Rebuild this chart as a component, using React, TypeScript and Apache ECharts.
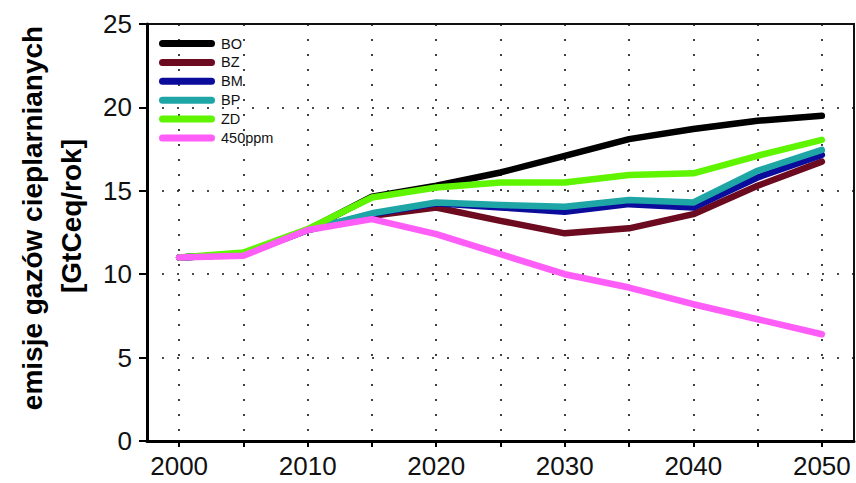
import React, { useEffect, useRef } from "react";
import * as echarts from "echarts";

// Years at which every scenario is reported
const years = [2000, 2005, 2010, 2015, 2020, 2025, 2030, 2035, 2040, 2045, 2050];
// Years that carry a label on the horizontal axis
const labelYears = [2000, 2010, 2020, 2030, 2040, 2050];

const seriesNames = ["BO", "BZ", "BM", "BP", "ZD", "450ppm"];
const seriesColors = ["#000000", "#6c0a1f", "#0b0b9c", "#1ea5a6", "#5ff500", "#ff5df7"];

// Emissions, GtCeq per year
const bo = [11.0, 11.2, 12.65, 14.65, 15.3, 16.1, 17.1, 18.1, 18.7, 19.2, 19.5];
const bz = [11.0, 11.2, 12.65, 13.5, 14.0, 13.2, 12.45, 12.75, 13.6, 15.3, 16.75];
const bm = [11.0, 11.2, 12.65, 13.6, 14.25, 14.0, 13.75, 14.2, 14.0, 15.8, 17.15];
const bp = [11.0, 11.2, 12.65, 13.65, 14.3, 14.15, 14.05, 14.45, 14.3, 16.2, 17.45];
const zd = [11.0, 11.3, 12.7, 14.6, 15.2, 15.5, 15.5, 15.95, 16.05, 17.1, 18.05];
const ppm450 = [11.0, 11.1, 12.65, 13.3, 12.4, 11.2, 10.0, 9.2, 8.2, 7.3, 6.4];

const allValues = [bo, bz, bm, bp, zd, ppm450];

const yAxisTitle = ["emisje gazów cieplarnianych", "[GtCeq/rok]"];

const FONT = "'Liberation Sans', Arial, Helvetica, sans-serif";

// Capsule-shaped legend swatch (thick line with round ends)
const CAPSULE = "path://M3.5,0 H52.5 A3.5,3.5 0 0 1 52.5,7 H3.5 A3.5,3.5 0 0 1 3.5,0 Z";

export default function App() {
  const ref = useRef<HTMLDivElement>(null);

  useEffect(() => {
    document.body.style.margin = "0";
    if (!ref.current) return;
    const chart = echarts.init(ref.current, undefined, { renderer: "svg" });

    const dotted = { color: "#111", width: 1.6, type: [2, 13] as number[] };

    chart.setOption({
      animation: false,
      backgroundColor: "#ffffff",
      grid: {
        left: 147,
        right: 2,
        top: 24,
        bottom: 42,
        show: true,
        borderColor: "#111",
        borderWidth: 2,
        backgroundColor: "transparent",
      },
      legend: {
        orient: "vertical",
        left: 159,
        top: 36,
        padding: 0,
        icon: CAPSULE,
        itemWidth: 56,
        itemHeight: 7,
        itemGap: 3.9,
        data: seriesNames,
        textStyle: {
          fontFamily: FONT,
          fontSize: 14.5,
          color: "#111",
          lineHeight: 14,
          padding: [0, 0, 0, 1],
        },
      },
      xAxis: {
        type: "value",
        min: 1997.5,
        max: 2052.5,
        axisLine: { show: true, onZero: false, lineStyle: { color: "#000", width: 3 } },
        axisTick: {
          show: true,
          length: 6,
          customValues: years,
          lineStyle: { color: "#000", width: 2 },
        },
        axisLabel: {
          customValues: labelYears,
          fontFamily: FONT,
          fontSize: 26,
          color: "#111",
          margin: 12,
          formatter: (v: number) => String(v),
        },
        splitLine: { show: true, lineStyle: dotted },
      },
      yAxis: {
        type: "value",
        min: 0,
        max: 25,
        interval: 5,
        axisLine: { show: true, lineStyle: { color: "#000", width: 3 } },
        axisTick: { show: true, length: 8, lineStyle: { color: "#000", width: 2 } },
        axisLabel: {
          fontFamily: FONT,
          fontSize: 26,
          color: "#111",
          margin: 15,
        },
        splitLine: { show: true, lineStyle: dotted },
      },
      graphic: [
        {
          type: "text",
          x: 32,
          y: 218,
          rotation: Math.PI / 2,
          style: {
            text: yAxisTitle[0],
            fontFamily: FONT,
            fontSize: 28,
            fontWeight: "bold",
            fill: "#000",
            align: "center",
            verticalAlign: "middle",
          },
        },
        {
          type: "text",
          x: 71,
          y: 216,
          rotation: Math.PI / 2,
          style: {
            text: yAxisTitle[1],
            fontFamily: FONT,
            fontSize: 28,
            fontWeight: "bold",
            fill: "#000",
            align: "center",
            verticalAlign: "middle",
          },
        },
      ],
      series: seriesNames.map((name, i) => ({
        name,
        type: "line",
        symbol: "none",
        color: seriesColors[i],
        lineStyle: { width: 6.5, color: seriesColors[i], cap: "round", join: "round" },
        data: years.map((y, j) => [y, allValues[i][j]]),
        z: 3 + i,
      })),
    });

    return () => chart.dispose();
  }, []);

  return <div ref={ref} style={{ width: 856, height: 483 }} />;
}
